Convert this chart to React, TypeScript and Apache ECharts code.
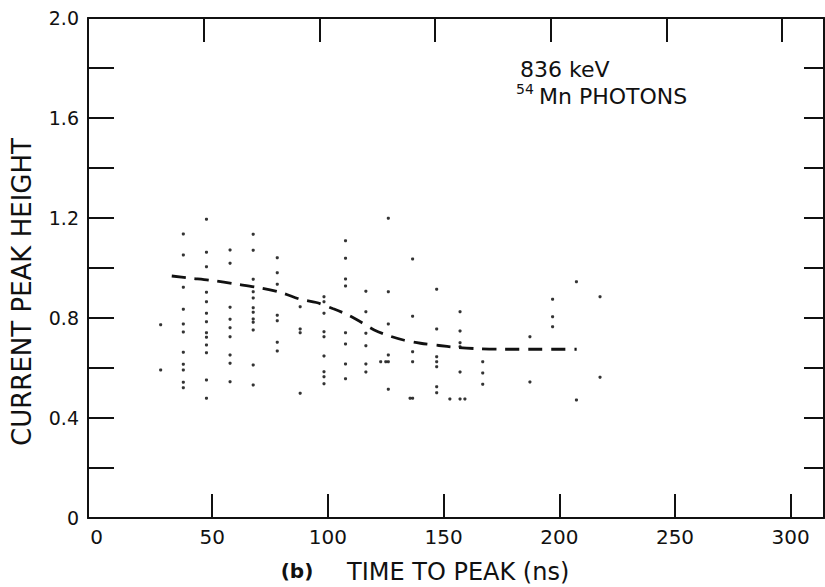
import React, { useEffect, useRef } from "react";
import * as echarts from "echarts";

// x positions (ns) of the columns of measured points
const columnX = [27.7, 37.5, 47.5, 57.7, 67.7, 78.1, 88.0, 98.3, 107.6, 116.4, 126.1, 136.6, 147.0, 157.1, 166.9, 187.3, 197.1, 207.4, 217.6];
// current peak heights in each column
const columnY = [
  [0.773, 0.592],
  [1.136, 1.052, 0.923, 0.835, 0.776, 0.744, 0.663, 0.615, 0.592, 0.543, 0.521],
  [1.195, 1.063, 1.005, 0.903, 0.865, 0.819, 0.785, 0.741, 0.723, 0.692, 0.661, 0.552, 0.479],
  [1.072, 1.019, 0.843, 0.795, 0.761, 0.725, 0.652, 0.619, 0.545],
  [1.135, 1.071, 0.955, 0.905, 0.88, 0.841, 0.823, 0.796, 0.783, 0.752, 0.612, 0.532],
  [1.041, 0.981, 0.935, 0.811, 0.789, 0.703, 0.668],
  [0.845, 0.756, 0.741, 0.499],
  [0.885, 0.865, 0.819, 0.745, 0.725, 0.648, 0.585, 0.565, 0.537],
  [1.109, 1.039, 0.956, 0.928, 0.741, 0.696, 0.616, 0.557],
  [0.907, 0.825, 0.739, 0.689, 0.616, 0.584],
  [1.199, 0.905, 0.776, 0.652, 0.625, 0.515],
  [1.036, 0.807, 0.665, 0.625, 0.479],
  [0.915, 0.756, 0.645, 0.625, 0.605, 0.525, 0.501],
  [0.825, 0.748, 0.701, 0.685, 0.584, 0.476],
  [0.625, 0.58, 0.535],
  [0.725, 0.544],
  [0.875, 0.805, 0.765],
  [0.945, 0.472],
  [0.885, 0.563],
];
// isolated points between columns
const extraPoints: [number, number][] = [
  [122.8, 0.625],
  [125.0, 0.625],
  [135.5, 0.479],
  [152.7, 0.476],
  [159.2, 0.476],
];
// dashed trend curve
const curveX = [32.5, 40, 50, 60, 70, 80, 88, 95, 102, 108, 114, 120, 126, 133, 140, 148, 155, 165, 175, 190, 207.5];
const curveY = [0.968, 0.96, 0.95, 0.936, 0.922, 0.901, 0.875, 0.862, 0.838, 0.815, 0.785, 0.752, 0.73, 0.711, 0.699, 0.69, 0.683, 0.677, 0.675, 0.675, 0.675];

const xTickValues = [50, 100, 150, 200, 250, 300];
const xLabelValues = [0, 50, 100, 150, 200, 250, 300];
const yTickValues = [0.2, 0.4, 0.6, 0.8, 1.0, 1.2, 1.4, 1.6, 1.8];
const yLabelValues = [0, 0.4, 0.8, 1.2, 1.6, 2.0];

const FONT = "'DejaVu Sans', sans-serif";
const INK = "#111";

export default function App() {
  const ref = useRef<HTMLDivElement>(null);
  useEffect(() => {
    if (!ref.current) return;
    const chart = echarts.init(ref.current, undefined, { renderer: "svg" });
    const scatter: [number, number][] = [];
    columnX.forEach((x, i) => columnY[i].forEach((y) => scatter.push([x, y])));
    extraPoints.forEach((p) => scatter.push(p));
    const curve = curveX.map((x, i) => [x, curveY[i]]);

    const axisLine = { show: true, onZero: false, lineStyle: { color: INK, width: 2 } };
    chart.setOption({
      animation: false,
      backgroundColor: "#fff",
      grid: { left: 88, right: 1, top: 18, bottom: 69 },
      xAxis: [
        {
          type: "value",
          position: "bottom",
          min: -3.7,
          max: 314.4,
          axisLine,
          axisTick: { show: true, inside: true, length: 24, customValues: xTickValues, lineStyle: { color: INK, width: 2 } },
          axisLabel: { customValues: xLabelValues, fontSize: 20, margin: 9, color: INK, fontFamily: FONT },
          splitLine: { show: false },
        },
        {
          type: "value",
          position: "top",
          min: 0,
          max: 318.1,
          axisLine,
          axisTick: { show: true, inside: true, length: 24, customValues: xTickValues, lineStyle: { color: INK, width: 2 } },
          axisLabel: { show: false },
          splitLine: { show: false },
        },
      ],
      yAxis: [
        {
          type: "value",
          position: "left",
          min: 0,
          max: 2,
          axisLine,
          axisTick: { show: true, inside: true, length: 26, customValues: yTickValues, lineStyle: { color: INK, width: 2 } },
          axisLabel: {
            customValues: yLabelValues,
            fontSize: 19,
            margin: 9,
            color: INK,
            fontFamily: FONT,
            formatter: (v: number) => (v === 0 ? "0" : v.toFixed(1)),
          },
          splitLine: { show: false },
        },
        {
          type: "value",
          position: "right",
          min: 0,
          max: 2,
          axisLine,
          axisTick: { show: true, inside: true, length: 20, customValues: yTickValues, lineStyle: { color: INK, width: 2 } },
          axisLabel: { show: false },
          splitLine: { show: false },
        },
      ],
      series: [
        {
          type: "scatter",
          xAxisIndex: 0,
          yAxisIndex: 0,
          data: scatter,
          symbol: "circle",
          symbolSize: 3.2,
          itemStyle: { color: "#000" },
        },
        {
          type: "line",
          xAxisIndex: 0,
          yAxisIndex: 0,
          data: curve,
          showSymbol: false,
          smooth: 0.3,
          lineStyle: { color: INK, width: 2.8, type: [14, 9] },
        },
      ],
      graphic: [
        {
          type: "text",
          x: 22,
          y: 292,
          rotation: Math.PI / 2,
          style: { text: "CURRENT PEAK HEIGHT", font: `26px ${FONT}`, fill: INK, textAlign: "center", textVerticalAlign: "middle" },
        },
        {
          type: "text",
          x: 297,
          y: 571,
          style: { text: "(b)", font: `bold 20px ${FONT}`, fill: INK, textAlign: "center", textVerticalAlign: "middle" },
        },
        {
          type: "text",
          x: 347,
          y: 572,
          style: { text: "TIME TO PEAK (ns)", font: `24px ${FONT}`, fill: INK, textAlign: "left", textVerticalAlign: "middle" },
        },
        {
          type: "text",
          x: 520,
          y: 69,
          style: { text: "836 keV", font: `22px ${FONT}`, fill: INK, textAlign: "left", textVerticalAlign: "middle" },
        },
        {
          type: "text",
          x: 516,
          y: 89,
          style: { text: "54", font: `14px ${FONT}`, fill: INK, textAlign: "left", textVerticalAlign: "middle" },
        },
        {
          type: "text",
          x: 539,
          y: 96,
          style: { text: "Mn PHOTONS", font: `22px ${FONT}`, fill: INK, textAlign: "left", textVerticalAlign: "middle" },
        },
      ],
    });
    return () => chart.dispose();
  }, []);
  return <div ref={ref} style={{ width: 825, height: 587, position: "fixed", left: 0, top: 0 }} />;
}
